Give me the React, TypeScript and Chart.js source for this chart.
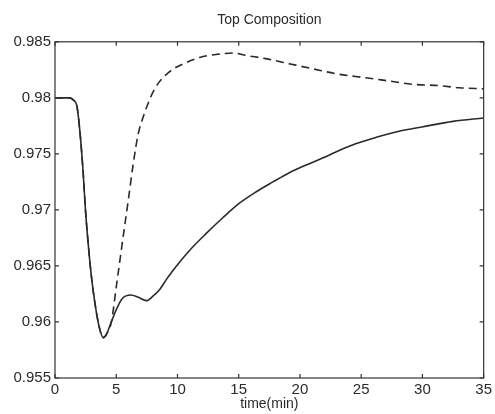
import React, { useEffect, useRef } from "react";
import { Chart, registerables } from "chart.js";

Chart.register(...registerables);

const chartTitle = "Top Composition";
const xAxisTitle = "time(min)";
const xTicks = [0, 5, 10, 15, 20, 25, 30, 35];
const yTicks = [0.955, 0.96, 0.965, 0.97, 0.975, 0.98, 0.985];

const solidTime = [0, 1.2, 1.5, 1.8, 2.05, 2.3, 2.5, 2.75, 3.0, 3.3, 3.6, 3.93, 4.2, 4.6, 5.0, 5.5, 6.2, 6.8, 7.46, 8.0, 8.55, 9.1, 9.63, 11.0, 12.35, 13.7, 15.06, 16.4, 17.8, 19.1, 20.5, 21.8, 23.2, 24.55, 26.3, 28.0, 29.97, 32.5, 35];
const solidValue = [0.98, 0.98, 0.9798, 0.9792, 0.9768, 0.9733, 0.9698, 0.9665, 0.9638, 0.9614, 0.9596, 0.9586, 0.9589, 0.96, 0.9611, 0.9621, 0.9624, 0.9622, 0.9619, 0.9623, 0.9629, 0.9638, 0.9646, 0.9664, 0.9679, 0.9693, 0.9706, 0.9716, 0.9725, 0.9733, 0.974, 0.9746, 0.9753, 0.9759, 0.9765, 0.977, 0.9774, 0.9779, 0.9782];

const dashedTime = [0, 1.2, 1.5, 1.8, 2.05, 2.3, 2.5, 2.75, 3.0, 3.3, 3.6, 3.93, 4.2, 4.6, 5.0, 5.5, 6.0, 6.4, 6.8, 7.2, 7.6, 8.0, 8.5, 9.1, 9.7, 10.4, 11.8, 13.4, 14.6, 15.5, 17.2, 19.3, 21.0, 23.2, 25.3, 27.3, 29.3, 31.3, 33.0, 35];
const dashedValue = [0.98, 0.98, 0.9798, 0.9792, 0.9768, 0.9733, 0.9698, 0.9665, 0.9638, 0.9614, 0.9596, 0.9586, 0.9589, 0.96, 0.9631, 0.9671, 0.971, 0.9742, 0.9768, 0.9783, 0.9795, 0.9805, 0.9814, 0.9821, 0.9826, 0.983, 0.9836, 0.9839, 0.984, 0.9838, 0.9835, 0.983, 0.9826, 0.9821, 0.9818, 0.9815, 0.9812, 0.9811, 0.9809, 0.9808];

const FONT = "'Liberation Sans', Arial, Helvetica, sans-serif";
const INK = "#2a2a2a";

const boxPlugin = {
  id: "matlabBox",
  afterDatasetsDraw(chart: any) {
    const { ctx, chartArea } = chart;
    const { left, right, top, bottom } = chartArea;
    const xs = chart.scales.x;
    const ys = chart.scales.y;
    ctx.save();
    ctx.strokeStyle = "#333";
    ctx.lineWidth = 1.2;
    ctx.strokeRect(left, top, right - left, bottom - top);
    const tl = 4;
    ctx.beginPath();
    xTicks.forEach((v) => {
      const px = xs.getPixelForValue(v);
      ctx.moveTo(px, bottom);
      ctx.lineTo(px, bottom - tl);
      ctx.moveTo(px, top);
      ctx.lineTo(px, top + tl);
    });
    yTicks.forEach((v) => {
      const py = ys.getPixelForValue(v);
      ctx.moveTo(left, py);
      ctx.lineTo(left + tl, py);
      ctx.moveTo(right, py);
      ctx.lineTo(right - tl, py);
    });
    ctx.stroke();
    ctx.restore();
  },
};

export default function App() {
  const ref = useRef<HTMLCanvasElement | null>(null);
  useEffect(() => {
    document.body.style.margin = "0";
    const canvas = ref.current;
    if (!canvas) return;
    const chart = new Chart(canvas, {
      type: "line",
      data: {
        datasets: [
          {
            label: "solid",
            data: solidTime.map((t, i) => ({ x: t, y: solidValue[i] })),
            borderColor: INK,
            borderWidth: 1.6,
            pointRadius: 0,
            cubicInterpolationMode: "monotone",
            fill: false,
          },
          {
            label: "dashed",
            data: dashedTime.map((t, i) => ({ x: t, y: dashedValue[i] })),
            borderColor: INK,
            borderWidth: 1.6,
            borderDash: [8, 5],
            pointRadius: 0,
            cubicInterpolationMode: "monotone",
            fill: false,
          },
        ],
      },
      options: {
        animation: false,
        responsive: false,
        devicePixelRatio: 1,
        layout: { padding: { left: 0, right: 10, top: 0, bottom: 0 } },
        plugins: {
          legend: { display: false },
          tooltip: { enabled: false },
          title: {
            display: true,
            text: chartTitle,
            fullSize: false,
            color: INK,
            font: { family: FONT, size: 14, weight: "normal" },
            padding: { top: 12, bottom: 13 },
          },
        },
        scales: {
          x: {
            type: "linear",
            min: 0,
            max: 35,
            afterFit: (s: any) => {
              s.height = 36;
            },
            afterBuildTicks: (s: any) => {
              s.ticks = xTicks.map((v) => ({ value: v }));
            },
            grid: { display: false, drawTicks: false },
            border: { display: false },
            ticks: {
              color: INK,
              font: { family: FONT, size: 15 },
              padding: 3,
              maxRotation: 0,
              callback: (v: any) => String(v),
            },
            title: {
              display: true,
              text: xAxisTitle,
              color: INK,
              font: { family: FONT, size: 14 },
              padding: { top: 0, bottom: 1 },
            },
          },
          y: {
            type: "linear",
            min: 0.955,
            max: 0.985,
            afterFit: (s: any) => {
              s.width = 55;
            },
            afterBuildTicks: (s: any) => {
              s.ticks = yTicks.map((v) => ({ value: v }));
            },
            grid: { display: false, drawTicks: false },
            border: { display: false },
            ticks: {
              color: INK,
              font: { family: FONT, size: 15 },
              padding: 4,
              callback: (v: any) => String(Number(Number(v).toFixed(3))),
            },
          },
        },
      },
      plugins: [boxPlugin],
    } as any);
    return () => chart.destroy();
  }, []);
  return (
    <div style={{ width: 495, height: 414, background: "#fff" }}>
      <canvas ref={ref} width={495} height={414} style={{ display: "block" }} />
    </div>
  );
}
